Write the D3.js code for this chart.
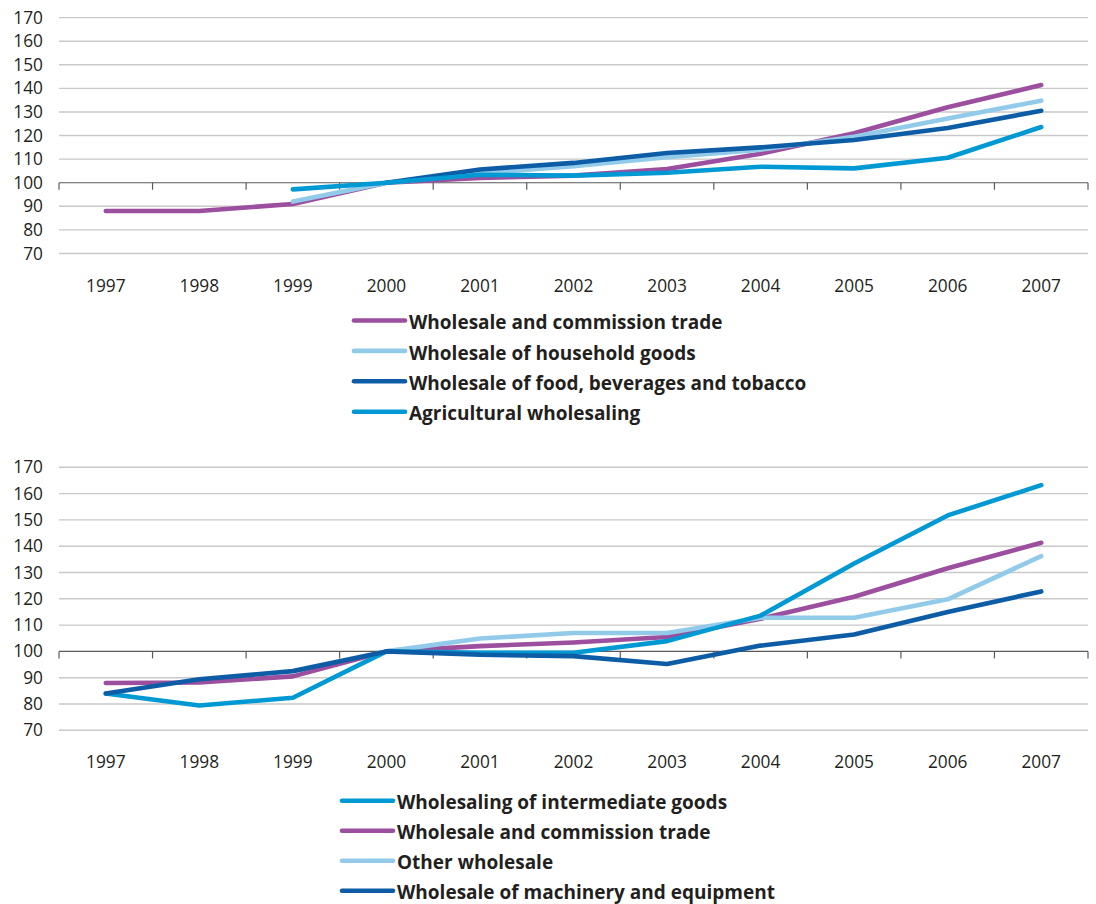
<!DOCTYPE html>
<html>
<head>
<meta charset="utf-8">
<script src="https://cdn.jsdelivr.net/npm/d3@7/dist/d3.min.js"></script>
<style>
  html, body { margin: 0; padding: 0; background: #ffffff; }
  svg { display: block; }
  text { font-family: "Open Sans", "Noto Sans", sans-serif; fill: #231f20; }
</style>
</head>
<body>
<svg id="chart" width="1096" height="904"></svg>
<script>
// Index, 2000 = 100
const years = ["1997", "1998", "1999", "2000", "2001", "2002", "2003", "2004", "2005", "2006", "2007"];
const yTicks = [70, 80, 90, 100, 110, 120, 130, 140, 150, 160, 170];

// Upper panel series (null = no observation)
const commissionTrade = [88, 88, 91, 100, 102, 103, 105.8, 112.3, 121, 132, 141.4];
const householdGoods  = [null, null, 92, 100, 104, 107, 110.8, 114, 119.5, 127.2, 134.8];
const foodBeverages   = [null, null, null, 100, 105.6, 108.4, 112.6, 115, 118.1, 123.2, 130.5];
const agricultural    = [null, null, 97.2, 100, 103.4, 103, 104.2, 106.8, 106.1, 110.6, 123.6];

// Lower panel series
const intermediateGoods = [84, 79.4, 82.4, 100, 99.5, 99.5, 103.9, 113.6, 133.4, 151.7, 163.2];
const commissionTrade2  = [88, 88.2, 90.5, 100, 102, 103.4, 105.5, 112.4, 120.8, 131.6, 141.3];
const otherWholesale    = [null, null, null, 100, 104.9, 107, 107, 112.8, 112.8, 119.8, 136.2];
const machinery         = [84, 89.4, 92.5, 100, 98.7, 98.2, 95.2, 102.2, 106.4, 115, 122.8];

const colors = {
  purple: "#9b4f9e",
  light: "#92cbea",
  dark: "#0d5ca6",
  cyan: "#0099d3"
};

const topSeries = [
  { name: "Wholesale and commission trade", values: commissionTrade, color: colors.purple },
  { name: "Wholesale of household goods", values: householdGoods, color: colors.light },
  { name: "Wholesale of food, beverages and tobacco", values: foodBeverages, color: colors.dark },
  { name: "Agricultural wholesaling", values: agricultural, color: colors.cyan }
];
const topDrawOrder = [0, 1, 2, 3];

const bottomSeries = [
  { name: "Wholesaling of intermediate goods", values: intermediateGoods, color: colors.cyan },
  { name: "Wholesale and commission trade", values: commissionTrade2, color: colors.purple },
  { name: "Other wholesale", values: otherWholesale, color: colors.light },
  { name: "Wholesale of machinery and equipment", values: machinery, color: colors.dark }
];
const bottomDrawOrder = [1, 2, 0, 3];

const svg = d3.select("#chart");
const plotLeft = 59, plotRight = 1088;

function drawPanel(cfg) {
  const x = d3.scaleBand().domain(years).range([plotLeft, plotRight]).paddingInner(0).paddingOuter(0);
  const y = d3.scaleLinear().domain([70, 170]).range([cfg.bottom, cfg.top]);
  const g = svg.append("g");

  // horizontal gridlines
  g.append("g").selectAll("line")
    .data(yTicks.filter(v => v !== 100))
    .join("line")
    .attr("x1", plotLeft).attr("x2", plotRight)
    .attr("y1", d => y(d)).attr("y2", d => y(d))
    .attr("stroke", "#c9c9c9").attr("stroke-width", 1.4);

  // value axis labels
  const yAxis = d3.axisLeft(y).tickValues(yTicks).tickSize(0).tickPadding(16);
  const ya = g.append("g").attr("transform", `translate(${plotLeft},0)`).call(yAxis);
  ya.select(".domain").remove();
  ya.selectAll("text").style("font-size", "17.3px").attr("fill", "#231f20")
    .attr("font-family", "'Open Sans', 'Noto Sans', sans-serif");

  // category axis crossing at 100, with ticks at band boundaries
  const base = y(100);
  const bounds = years.map(yr => x(yr)).concat([x(years[years.length - 1]) + x.bandwidth()]);
  g.append("line")
    .attr("x1", plotLeft).attr("x2", plotRight)
    .attr("y1", base).attr("y2", base)
    .attr("stroke", "#5a5a5a").attr("stroke-width", 1.2);
  g.append("g").selectAll("line")
    .data(bounds)
    .join("line")
    .attr("x1", d => d).attr("x2", d => d)
    .attr("y1", base).attr("y2", base + 7)
    .attr("stroke", "#5a5a5a").attr("stroke-width", 1.2);

  // year labels below the plot
  const xAxis = d3.axisBottom(x).tickSize(0).tickPadding(0);
  const xa = g.append("g").attr("transform", `translate(0,${cfg.bottom + cfg.labelGap})`).call(xAxis);
  xa.select(".domain").remove();
  xa.selectAll("text").style("font-size", "17.3px").attr("fill", "#231f20")
    .attr("dy", "0.35em").attr("y", 0)
    .attr("font-family", "'Open Sans', 'Noto Sans', sans-serif");

  // series lines
  const line = d3.line()
    .defined(d => d.v !== null)
    .x(d => x(d.year) + x.bandwidth() / 2)
    .y(d => y(d.v));
  cfg.order.forEach(i => {
    const s = cfg.series[i];
    const pts = years.map((yr, k) => ({ year: yr, v: s.values[k] }));
    g.append("path")
      .attr("d", line(pts))
      .attr("fill", "none")
      .attr("stroke", s.color)
      .attr("stroke-width", 4.6)
      .attr("stroke-linejoin", "round")
      .attr("stroke-linecap", "round");
  });

  // legend
  const lg = g.append("g");
  cfg.series.forEach((s, i) => {
    const ly = cfg.legendY + i * cfg.legendStep;
    lg.append("line")
      .attr("x1", cfg.legendX).attr("x2", cfg.legendX + 51)
      .attr("y1", ly).attr("y2", ly)
      .attr("stroke", s.color).attr("stroke-width", 4.6).attr("stroke-linecap", "round");
    lg.append("text")
      .attr("x", cfg.legendX + 55).attr("y", ly + 2)
      .attr("dy", "0.35em")
      .style("font-size", "19px").style("font-weight", "700")
      .text(s.name);
  });
}

drawPanel({ top: 17.6, bottom: 253.5, labelGap: 32.5, series: topSeries, order: topDrawOrder,
            legendX: 354, legendY: 320.5, legendStep: 30.4 });
drawPanel({ top: 467.3, bottom: 730.3, labelGap: 32, series: bottomSeries, order: bottomDrawOrder,
            legendX: 342, legendY: 800.8, legendStep: 30 });
</script>
</body>
</html>
